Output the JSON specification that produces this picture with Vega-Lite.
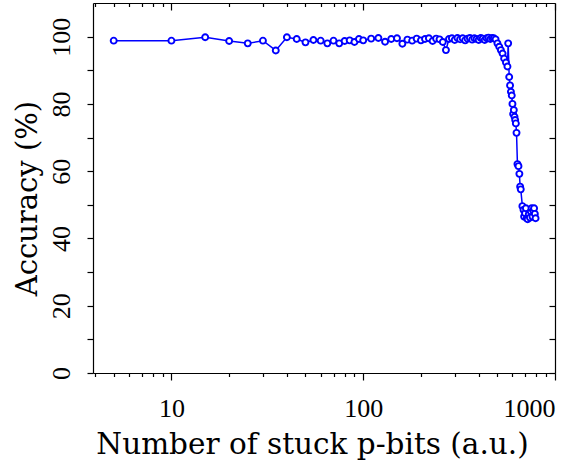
{
  "$schema": "https://vega.github.io/schema/vega-lite/v6.json",
  "width": 462,
  "height": 370,
  "autosize": {"type": "none"},
  "padding": {"left": 93, "top": 3, "right": 11, "bottom": 102},
  "config": {
    "view": {"stroke": null},
    "font": "Liberation Serif",
    "axis": {
      "grid": false,
      "domainColor": "#000000",
      "domainWidth": 1.2,
      "tickColor": "#000000",
      "tickWidth": 1.2,
      "labelColor": "#000000",
      "titleColor": "#000000",
      "labelFont": "Liberation Serif",
      "titleFont": "DejaVu Serif",
      "labelFontSize": 26,
      "titleFontWeight": "normal"
    }
  },
  "data": {
    "values": [
      {"stuck": 5, "accuracy": 98.8}, {"stuck": 10, "accuracy": 98.8}, {"stuck": 15, "accuracy": 99.8},
      {"stuck": 20, "accuracy": 98.7}, {"stuck": 25, "accuracy": 98.0}, {"stuck": 30, "accuracy": 98.8},
      {"stuck": 35, "accuracy": 95.9}, {"stuck": 40, "accuracy": 99.8}, {"stuck": 45, "accuracy": 99.3},
      {"stuck": 50, "accuracy": 98.3}, {"stuck": 55, "accuracy": 99.0}, {"stuck": 60, "accuracy": 98.8},
      {"stuck": 65, "accuracy": 98.0}, {"stuck": 70, "accuracy": 98.8}, {"stuck": 75, "accuracy": 98.0},
      {"stuck": 80, "accuracy": 98.7}, {"stuck": 85, "accuracy": 98.9}, {"stuck": 90, "accuracy": 98.4},
      {"stuck": 95, "accuracy": 99.3}, {"stuck": 100, "accuracy": 98.9}, {"stuck": 110, "accuracy": 99.4},
      {"stuck": 120, "accuracy": 99.6}, {"stuck": 130, "accuracy": 98.5}, {"stuck": 140, "accuracy": 99.3},
      {"stuck": 150, "accuracy": 99.5}, {"stuck": 160, "accuracy": 97.9}, {"stuck": 170, "accuracy": 99.1},
      {"stuck": 180, "accuracy": 98.8}, {"stuck": 190, "accuracy": 99.4}, {"stuck": 200, "accuracy": 98.9},
      {"stuck": 210, "accuracy": 99.3}, {"stuck": 220, "accuracy": 99.5}, {"stuck": 230, "accuracy": 98.7},
      {"stuck": 240, "accuracy": 99.4}, {"stuck": 250, "accuracy": 99.2}, {"stuck": 260, "accuracy": 98.4},
      {"stuck": 270, "accuracy": 96.0}, {"stuck": 280, "accuracy": 99.3}, {"stuck": 290, "accuracy": 99.5},
      {"stuck": 300, "accuracy": 99.0}, {"stuck": 310, "accuracy": 99.6}, {"stuck": 320, "accuracy": 99.2},
      {"stuck": 330, "accuracy": 99.5}, {"stuck": 340, "accuracy": 98.9}, {"stuck": 350, "accuracy": 99.4},
      {"stuck": 360, "accuracy": 99.6}, {"stuck": 370, "accuracy": 99.1}, {"stuck": 380, "accuracy": 99.5},
      {"stuck": 390, "accuracy": 99.3}, {"stuck": 400, "accuracy": 99.0}, {"stuck": 410, "accuracy": 99.6},
      {"stuck": 420, "accuracy": 99.4}, {"stuck": 430, "accuracy": 99.0}, {"stuck": 440, "accuracy": 99.5},
      {"stuck": 450, "accuracy": 99.7}, {"stuck": 460, "accuracy": 99.3}, {"stuck": 470, "accuracy": 99.6},
      {"stuck": 480, "accuracy": 99.5}, {"stuck": 490, "accuracy": 99.2}, {"stuck": 501, "accuracy": 98.0},
      {"stuck": 512, "accuracy": 97.0}, {"stuck": 522, "accuracy": 96.0}, {"stuck": 533, "accuracy": 95.0},
      {"stuck": 543, "accuracy": 93.5}, {"stuck": 555, "accuracy": 92.3}, {"stuck": 565, "accuracy": 91.1},
      {"stuck": 570, "accuracy": 98.0}, {"stuck": 577, "accuracy": 88.0}, {"stuck": 583, "accuracy": 85.5},
      {"stuck": 589, "accuracy": 83.6}, {"stuck": 595, "accuracy": 82.5}, {"stuck": 600, "accuracy": 80.0},
      {"stuck": 605, "accuracy": 77.0}, {"stuck": 610, "accuracy": 78.2}, {"stuck": 615, "accuracy": 76.2},
      {"stuck": 620, "accuracy": 75.2}, {"stuck": 625, "accuracy": 74.2}, {"stuck": 630, "accuracy": 71.4},
      {"stuck": 637, "accuracy": 62.1}, {"stuck": 645, "accuracy": 61.5}, {"stuck": 652, "accuracy": 59.2},
      {"stuck": 658, "accuracy": 55.4}, {"stuck": 663, "accuracy": 54.6}, {"stuck": 676, "accuracy": 49.6},
      {"stuck": 685, "accuracy": 48.5}, {"stuck": 690, "accuracy": 46.5}, {"stuck": 698, "accuracy": 47.5},
      {"stuck": 705, "accuracy": 49.0}, {"stuck": 712, "accuracy": 46.0}, {"stuck": 720, "accuracy": 45.7},
      {"stuck": 730, "accuracy": 47.2}, {"stuck": 740, "accuracy": 46.2}, {"stuck": 748, "accuracy": 48.0},
      {"stuck": 755, "accuracy": 49.0}, {"stuck": 763, "accuracy": 46.5}, {"stuck": 770, "accuracy": 48.3},
      {"stuck": 778, "accuracy": 49.0}, {"stuck": 785, "accuracy": 47.3}, {"stuck": 792, "accuracy": 46.0}
    ]
  },
  "layer": [
    {
      "mark": {
        "type": "line",
        "color": "#0000ff",
        "strokeWidth": 1.5,
        "point": {"filled": true, "fill": "#ffffff", "stroke": "#0000ff", "strokeWidth": 1.9, "size": 36, "opacity": 1}
      },
      "encoding": {
        "x": {
          "field": "stuck",
          "type": "quantitative",
          "scale": {"type": "log", "domain": [3.9, 1000], "nice": false},
          "axis": {
            "orient": "bottom",
            "title": "Number of stuck p-bits (a.u.)",
            "titleFontSize": 29.5,
            "titleX": 219,
            "format": "d",
            "values": [4, 5, 6, 7, 8, 9, 10, 20, 30, 40, 50, 60, 70, 80, 90, 100, 200, 300, 400, 500, 600, 700, 800, 900, 1000],
            "labelExpr": "datum.value == 10 || datum.value == 100 || datum.value == 1000 ? datum.label : ''",
            "tickSize": {"condition": {"test": "datum.value == 10 || datum.value == 100 || datum.value == 1000", "value": 7}, "value": 3.5},
            "labelPadding": 15,
            "labelFlush": true,
            "labelOverlap": false,
            "titlePadding": 9
          }
        },
        "y": {
          "field": "accuracy",
          "type": "quantitative",
          "scale": {"domain": [0, 110], "nice": false},
          "axis": {
            "orient": "left",
            "title": "Accuracy (%)",
            "titleFontSize": 29,
            "titleY": 195,
            "values": [0, 10, 20, 30, 40, 50, 60, 70, 80, 90, 100],
            "labelExpr": "datum.value % 20 == 0 ? datum.label : ''",
            "labelAngle": -90,
            "labelAlign": "center",
            "labelBaseline": "bottom",
            "tickSize": 6,
            "labelPadding": 13,
            "labelFlush": false,
            "labelOverlap": false,
            "titlePadding": 6
          }
        }
      }
    },
    {
      "mark": {"type": "point", "opacity": 0},
      "encoding": {
        "x": {
          "field": "stuck",
          "type": "quantitative",
          "axis": {
            "orient": "top",
            "title": null,
            "labels": false,
            "values": [4, 5, 6, 7, 8, 9, 10, 20, 30, 40, 50, 60, 70, 80, 90, 100, 200, 300, 400, 500, 600, 700, 800, 900, 1000],
            "tickSize": {"condition": {"test": "datum.value == 10 || datum.value == 100 || datum.value == 1000", "value": -7}, "value": -3.5}
          }
        },
        "y": {
          "field": "accuracy",
          "type": "quantitative",
          "axis": {
            "orient": "right",
            "title": null,
            "labels": false,
            "values": [0, 10, 20, 30, 40, 50, 60, 70, 80, 90, 100],
            "tickSize": -6
          }
        }
      }
    }
  ],
  "resolve": {"axis": {"x": "independent", "y": "independent"}}
}
